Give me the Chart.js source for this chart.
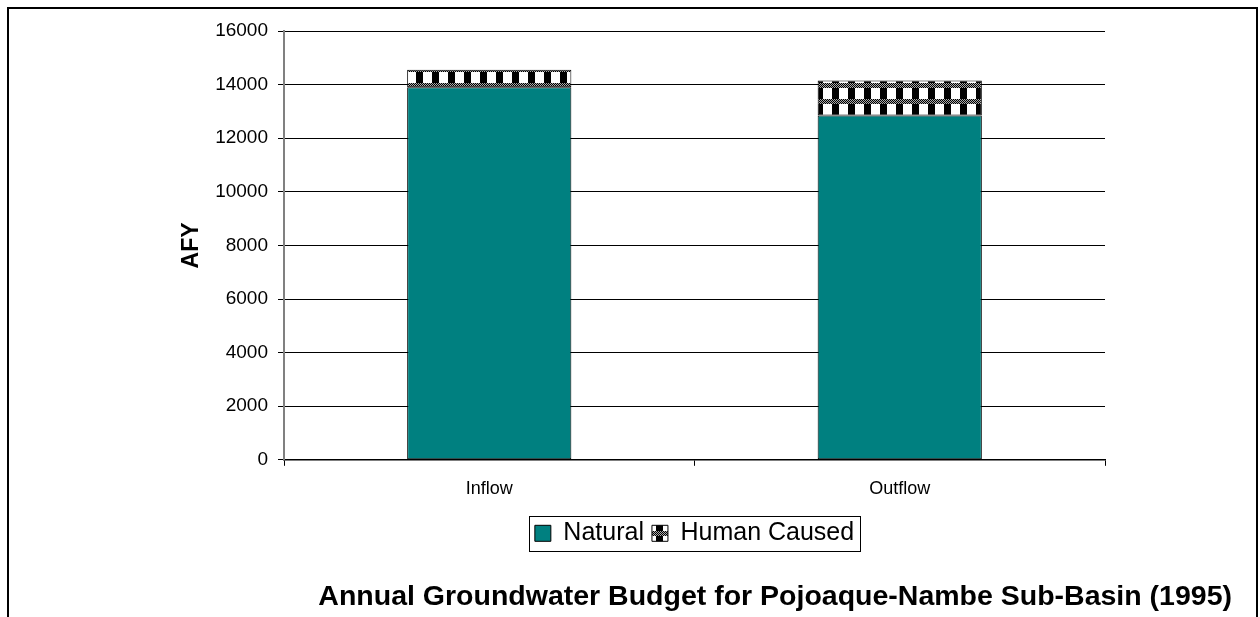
<!DOCTYPE html>
<html>
<head>
<meta charset="utf-8">
<script src="https://cdn.jsdelivr.net/npm/chart.js@4"></script>
<style>
  html, body { margin: 0; padding: 0; background: #fff; }
  #wrap { width: 1260px; height: 617px; position: relative; }
</style>
</head>
<body>
<div id="wrap"><canvas id="chart"></canvas></div>
<script>
// --- datos ---
const categories = ["Inflow", "Outflow"];
const natural = [13900, 12850];
const humanCaused = [650, 1300];
const yMin = 0;
const yMax = 16000;
const yStep = 2000;

const FONT = "'Liberation Sans', Arial, sans-serif";

// patrón de cuadros para "Human Caused"
function makePattern() {
    const c = document.createElement("canvas");
    c.width = 16; c.height = 16;
    const g = c.getContext("2d");
    g.fillStyle = "#fff";
    g.fillRect(0, 0, 16, 16);
    // fila de tramado fino
    for (let y = 3; y < 8; y++) {
        for (let x = 0; x < 16; x++) {
            g.fillStyle = ((x + y) % 2 === 0) ? "#000" : "#aaa";
            g.fillRect(x, y, 1, 1);
        }
    }
    // cuadro negro grande
    g.fillStyle = "#000";
    g.fillRect(0, 8, 7, 11);
    g.fillRect(0, 0, 7, 3);
    return g.createPattern(c, "repeat");
}
const checker = makePattern();

// marco y borde de la leyenda
const decor = {
    id: "decor",
    afterDraw(chart) {
        const ctx = chart.ctx;
        ctx.save();
        ctx.strokeStyle = "#000";
        ctx.lineWidth = 2;
        ctx.strokeRect(8, 8, 1249, 640);
        const boxes = chart.legend.legendHitBoxes;
        if (boxes && boxes.length) {
            const l = Math.min(...boxes.map(b => b.left)) - 6;
            const r = Math.max(...boxes.map(b => b.left + b.width)) + 6;
            const t = Math.min(...boxes.map(b => b.top)) - 5;
            const btm = Math.max(...boxes.map(b => b.top + b.height)) + 5;
            ctx.lineWidth = 1;
            ctx.strokeRect(Math.round(l) + 0.5, Math.round(t) + 0.5, Math.round(r - l), Math.round(btm - t));
        }
        ctx.restore();
    }
};

new Chart(document.getElementById("chart"), {
    type: "bar",
    data: {
        labels: categories,
        datasets: [
            {
                label: "Natural",
                data: natural,
                backgroundColor: "#008080",
                borderColor: "#000",
                borderWidth: 1,
                borderSkipped: false
            },
            {
                label: "Human Caused",
                data: humanCaused,
                backgroundColor: checker,
                borderColor: "#000",
                borderWidth: 1,
                borderSkipped: false
            }
        ]
    },
    options: {
        responsive: true,
        maintainAspectRatio: false,
        animation: false,
        layout: { padding: { left: 170, right: 28, top: 31, bottom: 0 } },
        datasets: { bar: { barPercentage: 0.4, categoryPercentage: 1 } },
        plugins: {
            legend: {
                position: "bottom",
                fullSize: false,
                labels: {
                    color: "#000",
                    font: { family: FONT, size: 25 },
                    boxWidth: 16,
                    boxHeight: 16,
                    padding: 8
                }
            },
            title: {
                display: true,
                position: "bottom",
                align: "end",
                text: "Annual Groundwater Budget for Pojoaque-Nambe Sub-Basin (1995)",
                color: "#000",
                font: { family: FONT, size: 28.5, weight: "bold" },
                padding: { top: 24, bottom: 3 }
            },
            tooltip: { enabled: false }
        },
        scales: {
            x: {
                stacked: true,
                offset: true,
                afterFit: (s) => { s.height = 53; },
                grid: {
                    offset: true,
                    drawOnChartArea: false,
                    color: "#000",
                    tickLength: 6
                },
                border: { color: "#000", width: 1.5 },
                ticks: {
                    color: "#000",
                    font: { family: FONT, size: 18 },
                    padding: 12
                }
            },
            y: {
                stacked: true,
                min: yMin,
                max: yMax,
                afterFit: (s) => { s.width = 114; },
                grid: { color: "#000", tickLength: 6 },
                border: { color: "#808080", width: 2 },
                ticks: {
                    stepSize: yStep,
                    color: "#000",
                    font: { family: FONT, size: 19 },
                    padding: 10,
                    callback: (v) => String(v)
                },
                title: {
                    display: true,
                    text: "AFY",
                    color: "#000",
                    font: { family: FONT, size: 23, weight: "bold" },
                    padding: { top: 8, bottom: 0 }
                }
            },
            y2: {
                position: "right",
                min: yMin,
                max: yMax,
                afterFit: (s) => { s.width = 127; },
                grid: { display: false },
                border: { display: false },
                ticks: { display: false }
            }
        }
    },
    plugins: [decor]
});
</script>
</body>
</html>
